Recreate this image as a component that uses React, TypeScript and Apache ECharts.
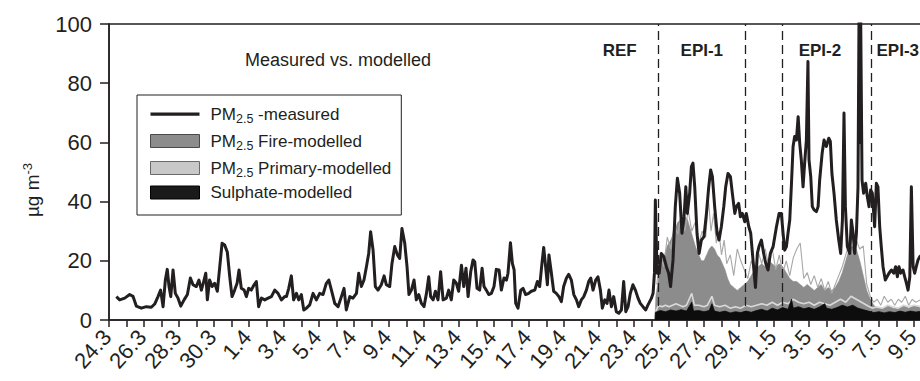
import React, { useEffect, useRef } from 'react';
import * as echarts from 'echarts';

// x values are days since 24.3 00:00
const dateLabels = ['24.3', '26.3', '28.3', '30.3', '1.4', '3.4', '5.4', '7.4', '9.4', '11.4', '13.4', '15.4',
  '17.4', '19.4', '21.4', '23.4', '25.4', '27.4', '29.4', '1.5', '3.5', '5.5', '7.5', '9.5'];

const measured: [number, number][] = [
  [0.42, 7.9], [0.61, 6.8], [0.90, 7.4], [1.18, 8.6], [1.37, 8.0], [1.56, 4.7], [1.85, 4.0], [2.13, 4.5], [2.42, 4.3],
  [2.61, 5.4], [2.80, 7.9], [2.95, 10.1], [3.09, 4.5], [3.22, 13.5], [3.33, 17.1], [3.43, 11.3], [3.53, 7.9], [3.66, 16.9],
  [3.79, 9.0], [3.94, 7.4], [4.10, 4.7], [4.29, 6.8], [4.48, 8.6], [4.65, 14.2], [4.80, 11.9], [4.99, 11.3], [5.14, 13.5],
  [5.28, 10.1], [5.41, 13.0], [5.53, 15.8], [5.62, 6.8], [5.75, 13.5], [5.89, 11.3], [6.04, 12.4], [6.19, 9.7], [6.33, 18.0],
  [6.46, 25.9], [6.61, 25.3], [6.76, 23.0], [6.90, 14.6], [7.03, 7.9], [7.18, 10.1], [7.32, 12.4], [7.43, 16.9], [7.56, 10.7],
  [7.72, 10.1], [7.85, 7.9], [7.98, 10.7], [8.13, 10.1], [8.29, 11.9], [8.42, 13.0], [8.55, 4.5], [8.71, 7.4], [8.90, 6.8],
  [9.09, 7.4], [9.28, 7.9], [9.47, 10.1], [9.66, 9.0], [9.85, 6.8], [10.04, 7.9],
  [10.14, 7.9], [10.27, 10.7], [10.42, 14.9], [10.55, 6.8], [10.71, 9.0], [10.84, 6.8], [10.99, 8.6], [11.13, 3.4], [11.28, 4.0],
  [11.47, 5.1], [11.66, 9.0], [11.85, 6.8], [12.04, 9.0], [12.23, 8.6], [12.42, 12.4], [12.56, 13.5], [12.71, 10.1], [12.90, 5.6],
  [13.09, 4.5], [13.28, 7.9], [13.43, 10.7], [13.56, 3.4], [13.76, 7.9], [13.94, 7.4], [14.14, 9.0], [14.27, 15.8], [14.42, 11.3],
  [14.57, 13.5], [14.71, 18.0], [14.84, 22.5], [14.95, 29.8], [15.09, 23.6], [15.22, 11.3], [15.37, 10.1], [15.56, 11.9],
  [15.72, 14.9], [15.85, 11.9], [16.04, 11.3], [16.17, 19.1], [16.33, 24.8], [16.48, 22.0], [16.61, 20.8], [16.74, 30.9],
  [16.90, 25.9], [17.03, 18.0], [17.14, 8.6], [17.28, 10.1], [17.43, 13.5], [17.56, 6.8], [17.70, 8.6], [17.85, 5.6], [18.00, 4.5],
  [18.14, 9.0], [18.27, 14.6], [18.38, 7.9], [18.52, 6.8], [18.65, 9.7], [18.80, 6.8], [18.95, 16.3], [19.09, 6.8], [19.28, 7.4],
  [19.41, 10.1], [19.56, 6.8], [19.70, 13.5], [19.85, 12.4], [19.98, 9.7], [20.14, 18.5], [20.27, 11.3], [20.40, 17.5],
  [20.52, 7.9], [20.67, 16.3], [20.80, 20.3], [20.90, 19.7], [21.03, 10.7], [21.18, 10.1], [21.32, 17.5], [21.43, 11.3],
  [21.56, 10.1], [21.70, 8.6], [21.85, 9.0], [22.00, 11.3], [22.13, 17.1], [22.29, 16.9], [22.42, 10.1], [22.57, 14.2],
  [22.71, 13.5], [22.80, 15.8], [22.94, 26.1], [23.05, 19.1], [23.15, 16.9], [23.24, 5.6], [23.37, 4.0], [23.53, 10.1],
  [23.66, 10.7], [23.81, 8.6], [23.98, 9.0], [24.13, 9.7], [24.33, 10.1], [24.48, 13.0], [24.61, 11.3], [24.74, 19.1],
  [24.84, 24.5], [24.95, 18.0], [25.05, 11.9], [25.14, 22.0], [25.28, 15.8], [25.41, 9.7], [25.56, 9.0], [25.71, 7.9],
  [25.85, 6.2], [25.98, 11.3], [26.14, 14.2], [26.27, 15.4], [26.42, 13.5], [26.56, 8.6], [26.71, 6.8], [26.84, 4.5],
  [26.99, 6.8], [27.13, 7.9], [27.28, 10.1], [27.41, 13.0], [27.53, 14.2], [27.66, 10.1], [27.81, 13.5], [27.94, 14.6],
  [28.08, 10.1], [28.19, 4.0], [28.33, 6.8], [28.46, 5.6], [28.57, 10.1], [28.71, 4.5], [28.84, 7.9], [28.99, 2.8],
  [29.13, 2.3], [29.28, 3.4], [29.41, 13.0], [29.53, 2.8], [29.66, 4.5], [29.79, 9.0], [29.94, 11.9], [30.08, 10.1],
  [30.23, 7.4], [30.36, 5.6], [30.51, 4.5], [30.67, 3.4], [30.80, 5.1],
  [30.99, 7.3], [31.09, 9.0], [31.17, 16.0], [31.22, 40.5], [31.32, 15.8], [31.44, 15.8], [31.56, 22.5], [31.70, 21.4],
  [31.85, 18.0], [31.98, 15.8], [32.09, 11.3], [32.23, 20.3], [32.36, 38.3], [32.48, 47.9], [32.61, 42.8], [32.74, 29.3],
  [32.86, 34.9], [32.96, 45.0], [33.05, 36.0], [33.18, 42.8], [33.28, 51.8], [33.37, 53.0], [33.47, 45.0], [33.60, 29.3],
  [33.72, 22.5], [33.85, 27.0], [34.00, 28.2], [34.14, 36.0], [34.27, 45.0], [34.38, 50.7], [34.48, 48.4], [34.61, 38.3],
  [34.75, 29.3], [34.86, 27.0], [34.99, 31.5], [35.13, 38.3], [35.24, 45.0], [35.37, 49.5], [35.51, 48.4], [35.62, 42.8],
  [35.76, 36.0], [35.85, 38.3], [35.98, 39.4], [36.08, 34.9], [36.19, 36.0], [36.33, 33.2], [36.42, 36.0], [36.56, 31.5],
  [36.67, 29.3], [36.80, 20.3], [36.94, 11.0], [37.05, 22.5], [37.14, 24.8], [37.28, 27.0], [37.41, 22.5], [37.53, 19.1],
  [37.66, 16.9], [37.79, 22.5], [37.95, 24.8], [38.14, 31.5], [38.29, 36.0],
  [38.42, 36.0], [38.52, 29.3], [38.61, 23.6], [38.71, 24.8], [38.80, 29.3], [38.90, 33.8], [38.99, 45.0], [39.09, 58.6],
  [39.18, 62.0], [39.28, 60.8], [39.38, 68.7], [39.47, 59.7], [39.56, 54.1], [39.66, 45.0], [39.75, 52.9], [39.85, 60.8],
  [39.94, 87.3], [40.00, 54.1], [40.10, 48.4], [40.19, 38.3], [40.29, 37.2], [40.42, 36.6], [40.52, 38.3], [40.61, 47.3],
  [40.75, 56.3], [40.86, 60.8], [40.99, 58.6], [41.13, 61.4], [41.22, 60.3], [41.31, 49.5], [41.43, 42.8], [41.56, 33.8],
  [41.70, 27.0], [41.81, 22.5], [41.91, 33.8], [42.00, 69.9], [42.08, 38.3], [42.19, 24.8], [42.33, 22.5], [42.42, 33.8],
  [42.52, 29.3], [42.61, 22.5], [42.71, 29.3], [42.80, 45.0], [42.86, 105], [42.90, 60], [42.95, 105], [43.03, 47.3],
  [43.12, 42.8], [43.24, 46.2], [43.33, 41.7], [43.43, 38.3], [43.52, 43.9], [43.62, 42.8], [43.75, 31.5], [43.85, 46.2],
  [43.94, 45.0], [44.04, 31.5], [44.13, 24.8], [44.23, 18.0], [44.36, 13.5], [44.46, 14.6], [44.57, 15.8], [44.71, 16.9],
  [44.84, 15.8], [44.95, 18.0], [45.05, 14.6], [45.14, 18.0], [45.24, 15.8], [45.37, 16.9], [45.47, 14.6], [45.57, 12.4],
  [45.66, 10.1], [45.76, 14.6], [45.85, 45.0], [45.95, 18.0], [46.04, 15.8], [46.13, 18.0], [46.23, 20.3], [46.33, 21.4],
  [46.45, 22.0]
];

const fireModelled: [number, number][] = [
  [31.2, 0], [31.25, 8], [31.3, 10], [31.45, 16], [31.6, 20], [31.75, 22], [31.9, 25], [32.1, 27], [32.3, 30], [32.5, 33],
  [32.7, 34], [32.9, 35], [33.05, 34], [33.2, 31], [33.35, 28], [33.5, 25], [33.7, 22], [33.85, 20], [34.0, 20], [34.15, 22],
  [34.3, 24], [34.45, 25], [34.6, 24], [34.75, 22], [34.9, 21], [35.05, 19], [35.2, 17], [35.35, 14], [35.5, 12], [35.7, 11],
  [35.9, 10], [36.1, 11], [36.3, 12], [36.5, 13], [36.7, 15], [36.9, 17], [37.1, 18], [37.3, 19], [37.5, 18], [37.7, 20],
  [37.9, 19], [38.1, 18], [38.3, 19], [38.5, 18], [38.7, 16], [38.9, 14], [39.1, 13], [39.3, 13], [39.5, 12], [39.7, 11],
  [39.9, 12], [40.1, 11], [40.3, 10], [40.5, 11], [40.7, 12], [40.9, 10], [41.1, 11], [41.3, 10], [41.5, 11], [41.7, 13],
  [41.9, 16], [42.1, 20], [42.3, 24], [42.5, 25], [42.7, 24], [42.9, 20], [43.1, 15], [43.3, 10], [43.5, 7], [43.7, 5],
  [43.9, 4], [44.2, 4], [44.5, 5], [44.8, 4], [45.1, 4], [45.4, 5], [45.7, 4], [46.0, 5], [46.45, 4]
];

const fireMembers: [number, number][] = [
  [31.3, 12], [31.5, 22], [31.7, 18], [31.9, 28], [32.1, 24], [32.3, 32], [32.5, 29], [32.7, 36], [32.9, 30], [33.1, 37],
  [33.3, 30], [33.5, 33], [33.7, 26], [33.9, 30], [34.1, 28], [34.25, 41], [34.4, 30], [34.55, 36], [34.7, 26], [34.85, 30],
  [35.0, 22], [35.15, 27], [35.3, 19], [35.5, 22], [35.7, 15], [35.9, 24], [36.1, 20], [36.3, 17], [36.5, 14], [36.7, 20],
  [36.9, 17], [37.1, 23], [37.3, 19], [37.5, 24], [37.7, 18], [37.9, 24], [38.1, 17], [38.3, 22], [38.5, 16], [38.7, 20],
  [38.9, 15], [39.1, 21], [39.3, 24], [39.5, 26], [39.7, 14], [39.9, 16], [40.1, 12], [40.3, 15], [40.5, 11], [40.7, 14],
  [40.9, 10], [41.1, 13], [41.3, 9], [41.5, 12], [41.7, 15], [41.9, 18], [42.1, 22], [42.3, 26], [42.5, 22], [42.7, 27],
  [42.9, 24], [43.1, 25], [43.3, 12], [43.5, 8], [43.7, 6], [43.9, 7], [44.1, 5], [44.3, 8], [44.5, 6], [44.7, 7], [44.9, 5],
  [45.1, 7], [45.3, 6], [45.5, 8], [45.7, 5], [45.9, 7], [46.1, 6], [46.45, 7]
];

const primaryModelled: [number, number][] = [
  [31.25, 3], [31.4, 5], [31.6, 4.5], [31.8, 5], [32.0, 4.5], [32.2, 5], [32.4, 5.5], [32.6, 5], [32.8, 4.5], [33.0, 5],
  [33.3, 9], [33.45, 5], [33.7, 5], [34.0, 4.5], [34.2, 5], [34.45, 8], [34.6, 5], [34.9, 4.5], [35.2, 5], [35.5, 4],
  [35.8, 4.5], [36.1, 4], [36.4, 5], [36.7, 4.5], [37.0, 5], [37.3, 5.5], [37.6, 5], [37.9, 6], [38.2, 5], [38.5, 6],
  [38.8, 5.5], [39.1, 7], [39.4, 6], [39.7, 5.5], [40.0, 6], [40.3, 5], [40.6, 6], [40.9, 5.5], [41.2, 5], [41.5, 6],
  [41.8, 7], [42.1, 6], [42.4, 8], [42.7, 7], [43.0, 6], [43.3, 5], [43.6, 4], [43.9, 4.5], [44.2, 4], [44.5, 5],
  [44.8, 4.5], [45.1, 4], [45.4, 5], [45.7, 4.5], [46.0, 5], [46.45, 4.5]
];

const sulphateModelled: [number, number][] = [
  [31.2, 0], [31.22, 2.5], [31.5, 3.2], [31.8, 2.8], [32.1, 3.4], [32.4, 3], [32.7, 3.5], [33.0, 3], [33.3, 6], [33.4, 3],
  [33.7, 3.2], [34.0, 2.8], [34.3, 3.2], [34.45, 5.5], [34.6, 3], [34.9, 2.6], [35.2, 3], [35.5, 2.4], [35.8, 2.8],
  [36.1, 2.5], [36.4, 3], [36.7, 2.6], [37.0, 3.2], [37.3, 3.6], [37.6, 3], [37.9, 4], [38.2, 3.4], [38.5, 4.2], [38.8, 3.6],
  [39.0, 7], [39.1, 4], [39.4, 4.5], [39.7, 3.8], [40.0, 4.2], [40.3, 3.6], [40.6, 4.4], [40.9, 5.5], [41.0, 4], [41.3, 3.6],
  [41.6, 4.2], [41.9, 5], [42.2, 4.4], [42.5, 5], [42.8, 4], [43.1, 3.5], [43.4, 3], [43.7, 2.5], [44.0, 2.8], [44.3, 2.4],
  [44.6, 2.8], [44.9, 2.5], [45.2, 3], [45.5, 2.6], [45.8, 3], [46.1, 2.7], [46.45, 3]
];

const periodNames = ['REF', 'EPI-1', 'EPI-2', 'EPI-3'];
const periodStart = [27, 31.37, 38.48, 43.57];
const periodEnd = [31.37, 36.38, 43.57, 47];
const periodBounds = [31.37, 36.38, 38.48, 43.57];

const FONT = '"Liberation Sans", Arial, Helvetica, sans-serif';
const INK = '#231f20';

const NAME_MEAS = 'PM2.5 -measured';
const NAME_FIRE = 'PM2.5 Fire-modelled';
const NAME_PRIM = 'PM2.5 Primary-modelled';
const NAME_SULF = 'Sulphate-modelled';

const legendText: Record<string, string> = {
  [NAME_MEAS]: '{p|PM}{s|2.5}{a| -measured}',
  [NAME_FIRE]: '{p|PM}{s|2.5}{a| Fire-modelled}',
  [NAME_PRIM]: '{p|PM}{s|2.5}{a| Primary-modelled}',
  [NAME_SULF]: '{p|Sulphate-modelled}',
};

export default function App() {
  const ref = useRef<HTMLDivElement>(null);
  useEffect(() => {
    if (!ref.current) return;
    const chart = echarts.init(ref.current, undefined, { renderer: 'svg' });
    const option: any = {
      animation: false,
      backgroundColor: '#ffffff',
      textStyle: { fontFamily: FONT, color: INK },
      title: {
        text: 'Measured vs. modelled',
        left: 245,
        top: 51,
        padding: 0,
        textStyle: { fontFamily: FONT, fontSize: 18, fontWeight: 'normal', color: INK },
      },
      grid: {
        left: 109,
        top: 24,
        width: 47 * 17.5,
        height: 296,
        outerBoundsMode: 'none',
        containLabel: false,
        show: true,
        borderColor: INK,
        borderWidth: 1.5,
        backgroundColor: 'transparent',
      },
      legend: {
        orient: 'vertical',
        left: 137,
        top: 95,
        padding: [8, 10, 14, 13],
        itemGap: 5,
        itemWidth: 49,
        itemHeight: 13,
        borderColor: INK,
        borderWidth: 1,
        selectedMode: false,
        formatter: (name: string) => legendText[name] ?? name,
        textStyle: {
          fontFamily: FONT,
          color: INK,
          rich: {
            p: { fontFamily: FONT, fontSize: 17, lineHeight: 21, color: INK, padding: [0, 0, 0, 6] },
            a: { fontFamily: FONT, fontSize: 17, lineHeight: 21, color: INK },
            s: { fontFamily: FONT, fontSize: 12.5, lineHeight: 12, color: INK, padding: [9, 0, 0, 0] },
          },
        },
        data: [
          { name: NAME_MEAS, icon: 'path://M0,0M49,13M0,5H49V8.2H0Z', itemStyle: { color: INK, borderWidth: 0 } },
          { name: NAME_FIRE, icon: 'rect', itemStyle: { color: '#8c8c8c', borderColor: '#4a4a4a', borderWidth: 1 } },
          { name: NAME_PRIM, icon: 'rect', itemStyle: { color: '#c8c8c8', borderColor: '#6a6a6a', borderWidth: 1 } },
          { name: NAME_SULF, icon: 'rect', itemStyle: { color: '#1a1a1a', borderColor: '#000', borderWidth: 1 } },
        ],
      },
      xAxis: {
        type: 'value',
        min: 0,
        max: 47,
        interval: 1,
        splitLine: { show: false },
        axisLine: { show: true, onZero: false, lineStyle: { color: INK, width: 1.5 } },
        axisTick: { show: true, inside: false, length: 7, lineStyle: { color: INK, width: 1.5 } },
        axisLabel: {
          rotate: 48,
          margin: 11,
          fontFamily: FONT,
          fontSize: 22,
          lineHeight: 14,
          padding: [0, 3, 0, 0],
          color: INK,
          showMinLabel: true,
          showMaxLabel: true,
          hideOverlap: false,
          formatter: (v: number) => {
            const i = Math.round(v);
            return i % 2 === 0 ? (dateLabels[i / 2] ?? '') : '';
          },
        },
      },
      yAxis: {
        type: 'value',
        min: 0,
        max: 100,
        interval: 20,
        splitLine: { show: false },
        axisLine: { show: true, lineStyle: { color: INK, width: 1.5 } },
        axisTick: { show: true, inside: false, length: 9, lineStyle: { color: INK, width: 1.5 } },
        axisLabel: { margin: 17, fontFamily: FONT, fontSize: 22, color: INK },
      },
      graphic: [
        {
          type: 'text',
          x: 32,
          y: 190,
          rotation: Math.PI / 2,
          style: {
            text: '{a|µg m}{b|-3}',
            align: 'center',
            verticalAlign: 'middle',
            rich: {
              a: { fontFamily: FONT, fontSize: 19, lineHeight: 22, fill: INK, color: INK },
              b: { fontFamily: FONT, fontSize: 13, lineHeight: 13, fill: INK, color: INK, padding: [0, 0, 9, 0] },
            },
          },
        },
      ],
      series: [
        {
          name: NAME_FIRE,
          type: 'line',
          data: fireModelled,
          symbol: 'none',
          lineStyle: { color: '#8c8c8c', width: 0.6 },
          itemStyle: { color: '#8c8c8c' },
          areaStyle: { color: '#8c8c8c', opacity: 1 },
          z: 2,
        },
        {
          name: 'fire-members',
          type: 'line',
          data: fireMembers,
          symbol: 'none',
          lineStyle: { color: '#a8a8a8', width: 1.1 },
          itemStyle: { color: '#a8a8a8' },
          z: 3,
        },
        {
          name: NAME_PRIM,
          type: 'line',
          data: primaryModelled,
          symbol: 'none',
          lineStyle: { color: '#dadada', width: 1.6 },
          itemStyle: { color: '#c8c8c8' },
          z: 4,
        },
        {
          name: NAME_SULF,
          type: 'line',
          data: sulphateModelled,
          symbol: 'none',
          lineStyle: { color: '#0d0d0d', width: 0.8 },
          itemStyle: { color: '#1a1a1a' },
          areaStyle: { color: '#0d0d0d', opacity: 1 },
          z: 5,
        },
        {
          name: NAME_MEAS,
          type: 'line',
          data: measured,
          symbol: 'none',
          lineStyle: { color: INK, width: 3, join: 'round' },
          itemStyle: { color: INK },
          z: 6,
          markLine: {
            silent: true,
            symbol: ['none', 'none'],
            label: { show: false },
            lineStyle: { color: INK, width: 1.3, type: [9, 5] },
            data: periodBounds.map((d) => ({ xAxis: d })),
          },
          markArea: {
            silent: true,
            itemStyle: { color: 'rgba(0,0,0,0)' },
            label: {
              show: true,
              position: 'insideTop',
              distance: 18,
              fontFamily: FONT,
              fontSize: 17,
              fontWeight: 'bold',
              color: INK,
            },
            data: periodNames.map((n, i) => [
              {
                name: n,
                xAxis: periodStart[i],
                label: i === 3 ? { position: [5, 18] } : i === 2 ? { offset: [-7, 0] } : undefined,
              },
              { xAxis: periodEnd[i] },
            ]),
          },
        },
      ],
    };
    chart.setOption(option);
    return () => chart.dispose();
  }, []);
  return (
    <div
      ref={ref}
      style={{ position: 'absolute', left: 0, top: 0, width: 920, height: 381, overflow: 'hidden' }}
    />
  );
}
